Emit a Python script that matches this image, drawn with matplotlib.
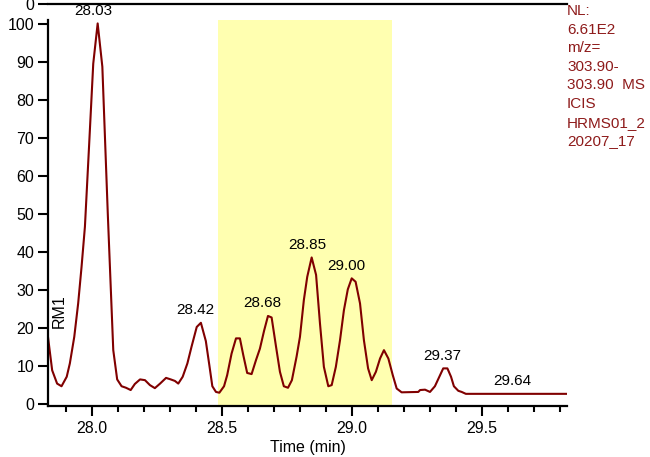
import numpy as np
import matplotlib
matplotlib.use('Agg')
import matplotlib.pyplot as plt

plt.rcParams['font.family'] = ['Liberation Sans', 'DejaVu Sans']

# chromatogram trace (time in min, relative abundance)
times = [27.830, 27.847, 27.866, 27.883, 27.903, 27.915, 27.932, 27.947, 27.960, 27.973,
         27.989, 28.005, 28.022, 28.040, 28.061, 28.082, 28.097, 28.114, 28.131, 28.149,
         28.165, 28.185, 28.204, 28.223, 28.242, 28.262, 28.285, 28.303, 28.319, 28.332,
         28.349, 28.367, 28.383, 28.403, 28.419, 28.438, 28.452, 28.463, 28.477, 28.490,
         28.508, 28.520, 28.537, 28.554, 28.569, 28.582, 28.597, 28.614, 28.631, 28.646,
         28.662, 28.677, 28.691, 28.708, 28.723, 28.738, 28.754, 28.769, 28.787, 28.800,
         28.815, 28.828, 28.845, 28.862, 28.877, 28.892, 28.909, 28.922, 28.938, 28.954,
         28.969, 28.984, 28.999, 29.014, 29.031, 29.046, 29.062, 29.076, 29.092, 29.108,
         29.123, 29.140, 29.157, 29.172, 29.191, 29.255, 29.262, 29.281, 29.300, 29.319,
         29.336, 29.351, 29.367, 29.381, 29.392, 29.409, 29.422, 29.438, 29.827]
abundance = [18.2, 8.9, 5.4, 4.7, 7.2, 10.7, 17.7, 26.5, 36.1, 46.7,
             68.0, 89.6, 100.2, 88.8, 50.0, 14.2, 6.5, 4.7, 4.3, 3.7,
             5.3, 6.5, 6.3, 5.0, 4.2, 5.4, 6.9, 6.5, 6.1, 5.4,
             7.2, 10.7, 15.1, 20.3, 21.4, 16.6, 10.0, 4.7, 3.2, 3.0,
             4.7, 7.6, 13.3, 17.3, 17.3, 12.9, 8.2, 7.9, 11.6, 14.6,
             19.3, 23.2, 22.8, 15.1, 8.5, 4.7, 4.3, 6.3, 12.5, 17.7,
             27.4, 33.5, 38.6, 34.0, 21.2, 9.8, 4.7, 5.0, 9.8, 16.8,
             24.7, 30.2, 33.1, 32.2, 26.5, 16.8, 9.4, 6.3, 8.5, 12.0,
             14.2, 12.0, 7.6, 4.1, 3.1, 3.2, 3.7, 3.8, 3.2, 4.7,
             7.2, 9.4, 9.4, 7.2, 4.7, 3.5, 3.2, 2.7, 2.7]

peak_labels = ['28.03', '28.42', '28.68', '28.85', '29.00', '29.37', '29.64']
highlight = (28.484, 29.154)
info_lines = ['NL:', '6.61E2', 'm/z=', '303.90-', '303.90  MS', 'ICIS', 'HRMS01_2', '20207_17']

trace_color = '#800000'
info_color = '#8E1B1B'

W, H = 650, 457
fig = plt.figure(figsize=(W / 100, H / 100), dpi=100)
ax = fig.add_axes([48 / W, 51 / H, 519 / W, 386 / H])

ax.axvspan(highlight[0], highlight[1], color='#FFFFB0', zorder=0, lw=0)
ax.plot(times, abundance, color=trace_color, lw=1.5, zorder=2)

ax.set_xlim(27.831, 29.827)
ax.set_ylim(-0.5, 101.1)

for side in ['top', 'right']:
    ax.spines[side].set_visible(False)
for side in ['left', 'bottom']:
    ax.spines[side].set_linewidth(1.6)

ax.set_yticks(np.arange(0, 101, 10))
ax.set_xticks([28.0, 28.5, 29.0, 29.5])
ax.set_xticklabels(['28.0', '28.5', '29.0', '29.5'])
ax.set_xticks(np.arange(27.9, 29.85, 0.1), minor=True)
ax.tick_params(axis='y', length=7, width=1.5, pad=3, labelsize=11.5)
ax.tick_params(axis='x', which='major', length=7, width=1.5, pad=4, labelsize=11.5)
ax.tick_params(axis='x', which='minor', length=4.5, width=1.5)
ax.set_xlabel('Time (min)', fontsize=11.5, labelpad=3)

t = np.array(times)
a = np.array(abundance)
for lbl in peak_labels:
    pt = float(lbl)
    win = (t > pt - 0.02) & (t < pt + 0.02)
    top = a[win].max() if win.any() else np.interp(pt, t, a)
    ax.annotate(lbl, xy=(pt, top), xytext=(-4.3, 4.0), textcoords='offset points',
                ha='center', va='bottom', fontsize=11, annotation_clip=False)

ax.text(27.876, 24.5, 'RM1', rotation=90, fontsize=11.5, ha='center', va='center')

# collapsed upper panel
ax2 = fig.add_axes([48 / W, 1 - 4 / H, 519 / W, 0.05])
ax2.set_xlim(ax.get_xlim())
ax2.set_ylim(0, 1)
for side in ['top', 'right', 'left']:
    ax2.spines[side].set_visible(False)
ax2.spines['bottom'].set_linewidth(1.6)
ax2.set_xticks([])
ax2.set_yticks([0])
ax2.tick_params(axis='y', length=7, width=1.5, pad=3, labelsize=11.5)
ax2.patch.set_alpha(0)

fig.text(567 / W, 1 - 4 / H, '\n'.join(info_lines), color=info_color, fontsize=11,
         ha='left', va='top', linespacing=1.42)

fig.savefig('out.png', dpi=100)
